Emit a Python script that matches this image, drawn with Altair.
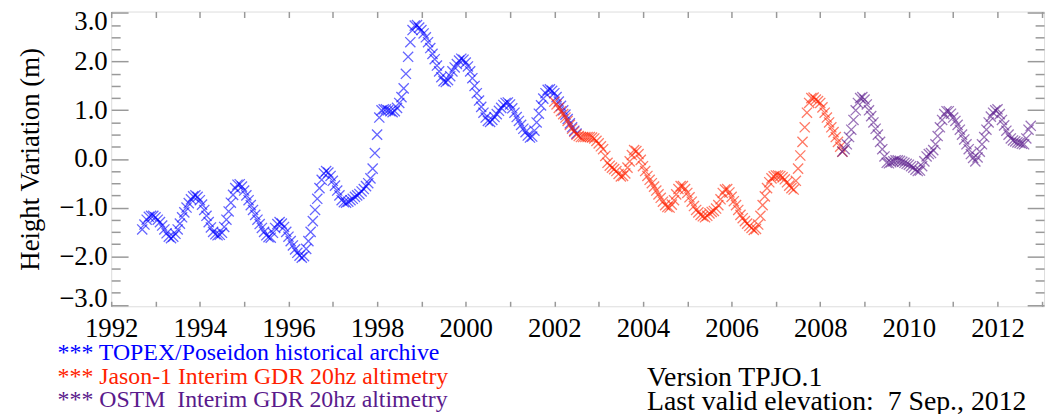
import altair as alt
import numpy as np
import pandas as pd

# ---------------- data ----------------
topex_start, jason_start, ostm_start = 1992.70, 2002.00, 2008.50
step = 0.05

topex_height = [
    # 1992.70 - 1992.95
    -1.45, -1.35, -1.25, -1.19, -1.17, -1.17,
    # 1993
    -1.20, -1.25, -1.30, -1.37, -1.45, -1.53, -1.60, -1.63, -1.60, -1.54,
    -1.45, -1.33, -1.20, -1.10, -1.00, -0.91, -0.83, -0.77, -0.75, -0.78,
    # 1994
    -0.85, -0.94, -1.05, -1.17, -1.30, -1.41, -1.50, -1.55, -1.57, -1.56,
    -1.52, -1.40, -1.25, -1.08, -0.90, -0.74, -0.60, -0.53, -0.52, -0.57,
    # 1995
    -0.65, -0.75, -0.85, -0.95, -1.05, -1.15, -1.25, -1.34, -1.42, -1.50,
    -1.57, -1.61, -1.62, -1.52, -1.42, -1.34, -1.30, -1.33, -1.40, -1.50,
    # 1996
    -1.60, -1.69, -1.78, -1.86, -1.93, -1.99, -2.03, -2.00, -1.85, -1.69,
    -1.50, -1.28, -1.05, -0.82, -0.60, -0.43, -0.30, -0.25, -0.28, -0.35,
    # 1997
    -0.45, -0.55, -0.65, -0.75, -0.85, -0.89, -0.90, -0.88, -0.85, -0.82,
    -0.78, -0.75, -0.72, -0.67, -0.62, -0.56, -0.50, -0.40, -0.20, 0.12,
    # 1998
    0.50, 0.85, 1.00, 1.02, 1.02, 1.00, 0.98, 0.96, 0.98, 1.05,
    1.15, 1.27, 1.45, 1.75, 2.10, 2.40, 2.65, 2.74, 2.75, 2.70,
    # 1999
    2.65, 2.58, 2.50, 2.40, 2.28, 2.16, 2.05, 1.92, 1.80, 1.68,
    1.60, 1.58, 1.62, 1.70, 1.80, 1.88, 1.95, 2.02, 2.06, 2.04,
    # 2000
    1.98, 1.90, 1.80, 1.66, 1.50, 1.35, 1.20, 1.07, 0.95, 0.85,
    0.78, 0.76, 0.80, 0.86, 0.92, 0.99, 1.05, 1.11, 1.15, 1.16,
    # 2001
    1.12, 1.04, 0.95, 0.86, 0.78, 0.70, 0.62, 0.55, 0.48, 0.44,
    0.46, 0.58, 0.75, 0.93, 1.10, 1.24, 1.35, 1.42, 1.43, 1.40,
    # 2002.00 - 2002.50
    1.35, 1.27, 1.18, 1.09, 1.00, 0.91, 0.82, 0.73, 0.65, 0.58, 0.52,
]
jason_height = [
    # 2002
    1.18, 1.12, 1.05, 0.98, 0.92, 0.85, 0.78, 0.70, 0.62, 0.56,
    0.50, 0.47, 0.45, 0.45, 0.45, 0.45, 0.45, 0.44, 0.42, 0.37,
    # 2003
    0.32, 0.26, 0.20, 0.06, -0.08, -0.14, -0.18, -0.21, -0.25, -0.31,
    -0.36, -0.35, -0.30, -0.18, -0.05, 0.08, 0.18, 0.16, 0.10, -0.02,
    # 2004
    -0.15, -0.25, -0.35, -0.43, -0.50, -0.57, -0.65, -0.73, -0.80, -0.88,
    -0.95, -0.99, -1.00, -0.94, -0.85, -0.73, -0.62, -0.56, -0.56, -0.62,
    # 2005
    -0.70, -0.79, -0.88, -0.97, -1.05, -1.10, -1.15, -1.18, -1.20, -1.17,
    -1.12, -1.09, -1.07, -1.02, -0.95, -0.83, -0.70, -0.63, -0.62, -0.69,
    # 2006
    -0.78, -0.87, -0.95, -1.05, -1.15, -1.22, -1.28, -1.33, -1.38, -1.42,
    -1.46, -1.44, -1.35, -1.17, -0.95, -0.77, -0.60, -0.48, -0.40, -0.36,
    # 2007
    -0.34, -0.34, -0.35, -0.38, -0.42, -0.48, -0.55, -0.60, -0.63, -0.45,
    -0.20, 0.07, 0.35, 0.65, 0.95, 1.15, 1.25, 1.26, 1.22, 1.19,
    # 2008.00 - 2008.50
    1.15, 1.06, 0.95, 0.85, 0.75, 0.65, 0.55, 0.45, 0.35, 0.25, 0.15,
]
ostm_height = [
    # 2008.50 - 2008.95
    0.15, 0.20, 0.30, 0.45, 0.60, 0.80, 1.00, 1.15, 1.25, 1.27,
    # 2009
    1.22, 1.12, 1.00, 0.88, 0.75, 0.62, 0.50, 0.35, 0.20, 0.05,
    -0.08, -0.09, -0.07, -0.05, -0.03, -0.03, -0.04, -0.06, -0.08, -0.10,
    # 2010
    -0.12, -0.15, -0.18, -0.22, -0.25, -0.24, -0.15, -0.05, 0.05, 0.10,
    0.12, 0.18, 0.30, 0.47, 0.65, 0.80, 0.92, 0.98, 0.98, 0.93,
    # 2011
    0.85, 0.78, 0.70, 0.60, 0.50, 0.40, 0.30, 0.20, 0.10, 0.02,
    -0.05, 0.03, 0.15, 0.30, 0.45, 0.60, 0.75, 0.87, 0.95, 1.00,
    # 2012.00 - 2012.75
    1.02, 0.92, 0.80, 0.69, 0.58, 0.50, 0.42, 0.38, 0.36, 0.34,
    0.33, 0.31, 0.30, 0.42, 0.60, 0.68,
]

missions = ["TOPEX/Poseidon", "Jason-1", "OSTM"]
mission_colors = ["#0000FF", "#FF2200", "#5A1A8C"]

year_ticks = list(range(1992, 2014))
y_major = [-3, -2, -1, 0, 1, 2, 3]
y_minor = [-2.75, -2.5, -2.25, -1.75, -1.5, -1.25, -0.75, -0.5, -0.25,
           0.25, 0.5, 0.75, 1.25, 1.5, 1.75, 2.25, 2.5, 2.75]

NBSP = "\u00a0"
notes_left = [
    "*** TOPEX/Poseidon historical archive",
    "*** Jason-1 Interim GDR 20hz altimetry",
    "*** OSTM" + NBSP + " Interim GDR 20hz altimetry",
]
notes_right = ["Version TPJO.1", "Last valid elevation:" + NBSP + " 7 Sep., 2012"]


def series(name, start, values):
    t = np.round(start + step * np.arange(len(values)), 3)
    return pd.DataFrame({"year": t, "height": values, "mission": name})


df = pd.concat([
    series(missions[0], topex_start, topex_height),
    series(missions[1], jason_start, jason_height),
    series(missions[2], ostm_start, ostm_height),
], ignore_index=True)

# ---------------- chart ----------------
SERIF = "Liberation Serif"
TICK = "#999999"
xs = alt.Scale(domain=[1992, 2013.05], nice=False, zero=False)
ys = alt.Scale(domain=[-3.03, 3.03], nice=False, zero=False)
X_SHAPE = "M -1 -1 L 1 1 M -1 1 L 1 -1"

base = alt.Chart(df)

points = base.mark_point(
    shape=X_SHAPE, filled=False, size=105, strokeWidth=1.3, opacity=0.6
).encode(
    x=alt.X("year:Q", scale=xs, axis=alt.Axis(
        orient="bottom", values=year_ticks, labelOverlap=False, labelFlush=False,
        labelExpr="datum.value % 2 == 0 ? '' + datum.value : ''",
        tickSize=5, offset=-5, domain=False, grid=False, labelPadding=9,
        labelFont=SERIF, labelFontSize=27, labelColor="black",
        tickColor=TICK, tickWidth=1.5, title=None)),
    y=alt.Y("height:Q", scale=ys, axis=alt.Axis(
        orient="left", values=y_major, format=".1f", labelOverlap=False,
        labelFlush=False,
        tickSize=17, offset=-17, domain=False, grid=False, labelPadding=4,
        labelFont=SERIF, labelFontSize=27, labelColor="black",
        labelOffset={"condition": [
            {"test": "datum.value == 3", "value": 9},
            {"test": "datum.value == -3", "value": -6}], "value": 0},
        tickColor=TICK, tickWidth=1.5,
        title="Height Variation (m)", titleFont=SERIF, titleFontSize=27,
        titleFontWeight="normal", titleColor="black", titlePadding=14)),
    color=alt.Color("mission:N", scale=alt.Scale(domain=missions, range=mission_colors),
                    legend=None),
)

top_right = base.mark_point(opacity=0, size=1).encode(
    x=alt.X("year:Q", scale=xs, axis=alt.Axis(
        orient="top", values=year_ticks, labels=False, tickSize=6, offset=-6,
        domain=False, grid=False, tickColor=TICK, tickWidth=1.5, title=None)),
    y=alt.Y("height:Q", scale=ys, axis=alt.Axis(
        orient="right", values=y_major, labels=False, tickSize=17, offset=-17,
        domain=False, grid=False, tickColor=TICK, tickWidth=1.5, title=None)),
)

left_minor = base.mark_point(opacity=0, size=1).encode(
    x=alt.X("year:Q", scale=xs, axis=None),
    y=alt.Y("height:Q", scale=ys, axis=alt.Axis(
        orient="left", values=y_minor, labels=False, tickSize=9, offset=-9,
        domain=False, grid=False, tickColor=TICK, tickWidth=1.5, title=None)),
)

right_minor = base.mark_point(opacity=0, size=1).encode(
    x=alt.X("year:Q", scale=xs, axis=None),
    y=alt.Y("height:Q", scale=ys, axis=alt.Axis(
        orient="right", values=y_minor, labels=False, tickSize=9, offset=-9,
        domain=False, grid=False, tickColor=TICK, tickWidth=1.5, title=None)),
)


def note(text, color, x, y, size):
    return alt.Chart(pd.DataFrame({"t": [text]})).mark_text(
        align="left", baseline="alphabetic", font=SERIF, fontSize=size,
        color=color, x=x, y=y
    ).encode(text="t:N")


texts = [
    note(notes_left[0], mission_colors[0], -54, 351, 24),
    note(notes_left[1], mission_colors[1], -54, 375, 24),
    note(notes_left[2], mission_colors[2], -54, 399, 24),
    note(notes_right[0], "black", 540, 377, 28),
    note(notes_right[1], "black", 540, 402, 28),
]

chart = alt.layer(points, top_right, left_minor, right_minor, *texts).resolve_axis(
    x="independent", y="independent"
).properties(
    width=940, height=297, autosize="none",
    padding={"left": 104, "top": 2, "right": 5, "bottom": 108},
).configure_view(stroke=TICK, strokeWidth=1.5).configure(background="white")

chart.save("out.html", embed_options={"renderer": "svg", "actions": False})
